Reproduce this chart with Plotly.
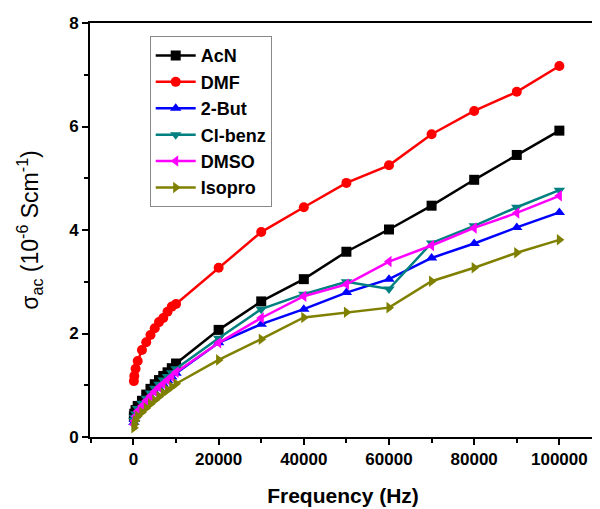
import plotly.graph_objects as go

freq = [100, 200, 500, 1000, 2000, 3000, 4000, 5000, 6000, 7000, 8000, 9000, 10000,
        20000, 30000, 40000, 50000, 60000, 70000, 80000, 90000, 100000]

acn = [0.40, 0.45, 0.52, 0.60, 0.70, 0.82, 0.93, 1.02, 1.10, 1.18, 1.25, 1.33, 1.42,
       2.07, 2.62, 3.05, 3.58, 4.01, 4.47, 4.97, 5.45, 5.92]
dmf = [1.08, 1.18, 1.32, 1.47, 1.68, 1.83, 1.97, 2.10, 2.22, 2.30, 2.42, 2.52, 2.57,
       3.27, 3.96, 4.44, 4.91, 5.25, 5.85, 6.30, 6.67, 7.17]
but2 = [0.28, 0.34, 0.41, 0.50, 0.60, 0.69, 0.78, 0.87, 0.95, 1.02, 1.09, 1.16, 1.23,
        1.82, 2.18, 2.47, 2.79, 3.05, 3.46, 3.74, 4.05, 4.34]
clbenz = [0.32, 0.38, 0.45, 0.55, 0.65, 0.75, 0.85, 0.94, 1.02, 1.10, 1.17, 1.24, 1.32,
          1.91, 2.47, 2.76, 3.00, 2.86, 3.75, 4.08, 4.44, 4.77]
dmso = [0.24, 0.31, 0.40, 0.50, 0.60, 0.70, 0.79, 0.88, 0.96, 1.03, 1.10, 1.17, 1.25,
        1.82, 2.30, 2.72, 2.95, 3.39, 3.70, 4.04, 4.33, 4.66]
isopro = [0.18, 0.24, 0.32, 0.40, 0.48, 0.56, 0.64, 0.71, 0.78, 0.85, 0.91, 0.97, 1.03,
          1.49, 1.89, 2.31, 2.41, 2.50, 3.01, 3.27, 3.56, 3.81]

series = [
    ("AcN", acn, "#000000", "square"),
    ("DMF", dmf, "#FF0000", "circle"),
    ("2-But", but2, "#0000FF", "triangle-up"),
    ("Cl-benz", clbenz, "#008080", "triangle-down"),
    ("DMSO", dmso, "#FF00FF", "triangle-left"),
    ("Isopro", isopro, "#808000", "triangle-right"),
]

fig = go.Figure()
for name, vals, col, sym in series:
    fig.add_trace(go.Scatter(
        x=freq, y=vals, name=name, mode="lines+markers",
        line=dict(color=col, width=2.5),
        marker=dict(symbol=sym, size=10, color=col),
        legendgroup=name,
    ))

font_b = "Arial, Liberation Sans, sans-serif"
# the page body adds an 8px margin, so the figure is sized to fit the 600x509 window
fig.update_layout(
    width=592, height=501,
    margin=dict(l=82, r=4, t=15, b=72),
    paper_bgcolor="white", plot_bgcolor="white",
    showlegend=True,
    legend=dict(
        x=0.118, y=0.968, xanchor="left", yanchor="top",
        bordercolor="#888888", borderwidth=1, bgcolor="white",
        font=dict(family=font_b, size=18, color="black", weight="bold"),
        tracegroupgap=0, itemwidth=40,
    ),
    xaxis=dict(
        range=[-10200, 108600], tickmode="array",
        tickvals=[0, 20000, 40000, 60000, 80000, 100000],
        ticktext=["0", "20000", "40000", "60000", "80000", "100000"],
        ticks="outside", ticklen=6, tickwidth=2, tickcolor="black",
        minor=dict(dtick=10000, tick0=0, ticks="outside", ticklen=4, tickwidth=2, tickcolor="black"),
        showline=True, linecolor="black", linewidth=2, mirror=True,
        showgrid=False, zeroline=False, automargin=False,
        tickfont=dict(family=font_b, size=17, color="black", weight="bold"),
        title=dict(text="Frequency (Hz)", standoff=20,
                   font=dict(family=font_b, size=21, color="black", weight="bold")),
    ),
    yaxis=dict(
        range=[0, 8], tickmode="array", tickvals=[0, 2, 4, 6, 8],
        ticks="outside", ticklen=6, tickwidth=2, tickcolor="black",
        minor=dict(dtick=1, tick0=0, ticks="outside", ticklen=4, tickwidth=2, tickcolor="black"),
        showline=True, linecolor="black", linewidth=2, mirror=True,
        showgrid=False, zeroline=False, automargin=False,
        tickfont=dict(family=font_b, size=17, color="black", weight="bold"),
        title=dict(text="σ<sub>ac</sub> (10<sup>-6</sup> Scm<sup>-1</sup>)", standoff=24,
                   font=dict(family=font_b, size=23, color="black")),
    ),
)

fig.write_html("out.html")
